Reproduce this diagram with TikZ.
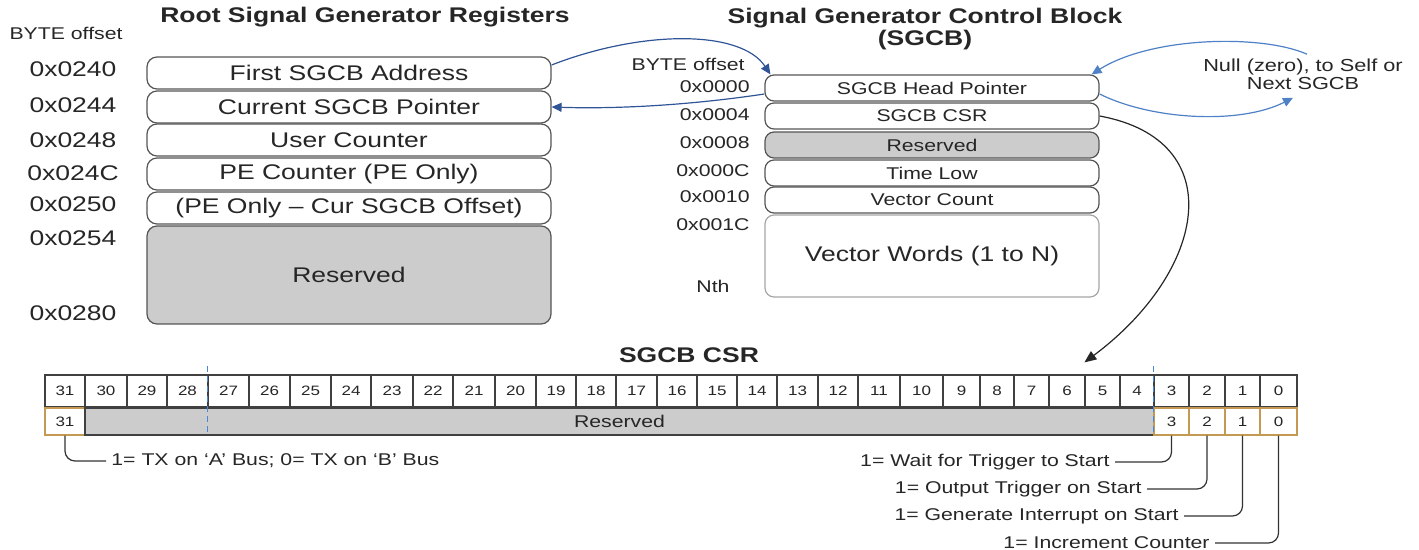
\documentclass[tikz,border=0pt]{standalone}
\usepackage{fontspec}
\setmainfont[FakeStretch=1.25]{Liberation Sans}
\usetikzlibrary{arrows.meta}

\definecolor{boxgray}{HTML}{555555}
\definecolor{vecgray}{HTML}{A6A6A6}
\definecolor{resgray}{HTML}{CCCCCC}
\definecolor{bittan}{HTML}{C49A52}
\definecolor{darkblue}{HTML}{2F5597}
\definecolor{lightblue}{HTML}{4F81C7}
\definecolor{splitblue}{HTML}{4A86D8}

\newcommand\bigtxt{\fontsize{10.6}{11}\selectfont}
\newcommand\smalltxt{\fontsize{8.5}{9}\selectfont}
\newcommand\bittxt{\fontsize{6.8}{8}\selectfont}

\begin{document}
\begin{tikzpicture}[x=0.5pt, y=-0.5pt,
    every node/.style={inner sep=0pt, text=black!85},
    lreg/.style={draw=boxgray, line width=0.6pt, rounded corners=5pt, fill=white,
      minimum width=202pt, minimum height=16pt, font=\bigtxt},
    rreg/.style={draw=boxgray, line width=0.6pt, rounded corners=4.5pt, fill=white,
      minimum width=167pt, minimum height=13pt, font=\smalltxt},
    res/.style={fill=resgray},
    title/.style={font=\bigtxt\bfseries, align=center},
    bit/.style={draw=black!75, line width=0.6pt, fill=white, minimum height=16pt, font=\bittxt},
    tbit/.style={draw=bittan, line width=0.6pt, fill=white, minimum height=13.5pt, font=\bittxt},
    note/.style={font=\smalltxt, inner sep=2.5pt},
    lead/.style={draw=black!80, line width=0.6pt, rounded corners=5pt},
    ptr/.style={draw=darkblue, line width=0.6pt, -{Triangle[length=5pt,width=4.5pt]}},
    nxt/.style={draw=lightblue, line width=0.6pt, -{Triangle[length=5pt,width=4.5pt]}},
    blk/.style={draw=black!85, line width=0.6pt, -{Triangle[length=6pt,width=5pt]}},
    bitsplit/.style={draw=splitblue, line width=0.8pt, dash pattern=on 3pt off 2pt}]
  \useasboundingbox (0,0) rectangle (1419,550);

  % root registers
  \node[title] (ltitle) at (365,17) {Root Signal Generator Registers};
  \node[font=\smalltxt] (lbyte) at (66,33) {BYTE offset};

  \node[lreg] (first) at (349,73) {First SGCB Address};
  \node[lreg] (cur) at (349,107) {Current SGCB Pointer};
  \node[lreg] (user) at (349,140) {User Counter};
  \node[lreg] (pecnt) at (349,174) {PE Counter (PE Only)};
  \node[lreg] (peoff) at (349,208) {(PE Only – Cur SGCB Offset)};
  \node[lreg, res, minimum height=49pt] (lres) at (349,275) {Reserved};

  \node[font=\bigtxt] (o240) at (73,69) {0x0240};
  \node[font=\bigtxt] (o244) at (73,105) {0x0244};
  \node[font=\bigtxt] (o248) at (73,140) {0x0248};
  \node[font=\bigtxt] (o24c) at (73,173) {0x024C};
  \node[font=\bigtxt] (o250) at (73,204) {0x0250};
  \node[font=\bigtxt] (o254) at (73,238) {0x0254};
  \node[font=\bigtxt] (o280) at (73,313) {0x0280};

  % control block
  \node[title] (rtitle) at (925,29) {Signal Generator Control Block\\(SGCB)};
  \node[font=\smalltxt, anchor=east] (rbyte) at (745,64) {BYTE offset};

  \node[rreg] (head) at (932,88) {SGCB Head Pointer};
  \node[rreg] (csr) at (932,116) {SGCB CSR};
  \node[rreg, res] (rres) at (932,145) {Reserved};
  \node[rreg] (tlow) at (932,173) {Time Low};
  \node[rreg] (vcnt) at (932,200) {Vector Count};
  \node[rreg, draw=vecgray, minimum height=41pt, font=\bigtxt] (vwords) at (932,256) {Vector Words (1 to N)};

  \node[font=\smalltxt, anchor=east] (o0000) at (750,87) {0x0000};
  \node[font=\smalltxt, anchor=east] (o0004) at (750,115) {0x0004};
  \node[font=\smalltxt, anchor=east] (o0008) at (750,143) {0x0008};
  \node[font=\smalltxt, anchor=east] (o000c) at (750,171) {0x000C};
  \node[font=\smalltxt, anchor=east] (o0010) at (750,197) {0x0010};
  \node[font=\smalltxt, anchor=east] (o001c) at (750,225) {0x001C};
  \node[font=\smalltxt] (onth) at (713,286) {Nth};

  \node[font=\fontsize{8.7}{9}\selectfont, align=center, inner sep=2pt] (null) at (1303,74) {Null (zero), to Self or\\Next SGCB};

  \draw[ptr] ([yshift=4pt]first.east) .. controls +(90,-35) and +(-30,-45) .. ([xshift=3pt]head.north west);
  \draw[ptr] ([yshift=-3pt]head.west) .. controls +(-80,12) and +(60,2) .. (cur.east);
  \draw[nxt] ([xshift=2pt]null.north) .. controls +(-45,-20) and +(60,-38) .. ([xshift=-4pt]head.north east);
  \draw[nxt] ([yshift=-3pt]head.east) .. controls +(52,26) and +(-53,27) .. ([xshift=-5pt,yshift=-2pt]null.south);

  % csr bits
  \node[title] (csrtitle) at (689,355) {SGCB CSR};

  \foreach \l/\r [count=\i from 0] in {45/85, 85/127, 127/167, 167/208, 208/249, 249/290,
      290/331, 331/371, 371/413, 413/453, 453/495, 495/536, 536/576, 576/616, 616/657,
      657/697, 697/737, 737/777, 777/818, 818/858, 858/900, 900/943, 943/980, 980/1014,
      1014/1049, 1049/1085, 1085/1120, 1120/1154, 1154/1189, 1189/1225, 1225/1260, 1260/1297} {
    \pgfmathtruncatemacro{\b}{31-\i}
    \pgfmathsetmacro{\w}{(\r-\l)/2}
    \node[bit, minimum width=\w pt] (t\b) at ({(\l+\r)/2},391) {\b};
  }

  \node[tbit, minimum width=20pt] (s31) at (65,421.5) {31};
  \node[bit, res, minimum height=13.5pt, minimum width=534.5pt, font=\smalltxt] (sres) at (619.5,421.5) {Reserved};
  \node[tbit, minimum width=17.5pt] (s3) at (1171.5,421.5) {3};
  \node[tbit, minimum width=18pt] (s2) at (1207,421.5) {2};
  \node[tbit, minimum width=17.5pt] (s1) at (1242.5,421.5) {1};
  \node[tbit, minimum width=18.5pt] (s0) at (1278.5,421.5) {0};

  \draw[bitsplit] ([yshift=4pt]t27.north west) -- (t27.west |- sres.south);
  \draw[bitsplit] ([yshift=4pt]t3.north west) -- (t3.west |- sres.south);

  \draw[blk] (csr.east) .. controls +(131,24) and +(123,-92) .. ([yshift=6pt]t5.north west);

  % bit meanings
  \node[note, anchor=west] (a31) at (106,461) {1= TX on ‘A’ Bus; 0= TX on ‘B’ Bus};
  \node[note, anchor=east] (a3) at (1115,462) {1= Wait for Trigger to Start};
  \node[note, anchor=east] (a2) at (1147,489) {1= Output Trigger on Start};
  \node[note, anchor=east] (a1) at (1184,516) {1= Generate Interrupt on Start};
  \node[note, anchor=east] (a0) at (1215,543) {1= Increment Counter};

  \draw[lead] (s31.south) |- (a31.west);
  \draw[lead] (s3.south) |- (a3.east);
  \draw[lead] (s2.south) |- (a2.east);
  \draw[lead] (s1.south) |- (a1.east);
  \draw[lead] (s0.south) |- (a0.east);
\end{tikzpicture}
\end{document}
